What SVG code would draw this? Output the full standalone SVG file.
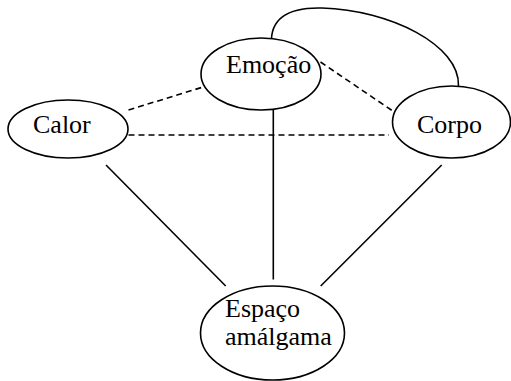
<svg xmlns="http://www.w3.org/2000/svg" width="511" height="381" viewBox="0 0 511 381">
<style>
.n{fill:#fff;stroke:#000;stroke-width:1.6}
.t{font-family:"Liberation Serif","Times New Roman",serif;font-size:26px;fill:#000}
.s{fill:none;stroke:#000;stroke-width:1.6}
.d{fill:none;stroke:#000;stroke-width:1.6;stroke-dasharray:6,4}
</style>
<rect width="511" height="381" fill="#fff"/>
<g id="connectors">
<line class="d" x1="128.5" y1="110" x2="201.5" y2="87.5"/>
<line class="d" x1="320.5" y1="62" x2="393.5" y2="111.5"/>
<line class="d" x1="128.5" y1="135" x2="389" y2="135"/>
<line class="s" x1="273.3" y1="110" x2="273.3" y2="279.5"/>
<line class="s" x1="106" y1="165" x2="225.7" y2="286"/>
<line class="s" x1="441.7" y1="165" x2="320.7" y2="286"/>
<path class="s" d="M271.5,44 C270,20 286,7 322,8 C390,10 460,45 458.5,86"/>
</g>
<g id="emocao">
<ellipse class="n" cx="261" cy="74" rx="60" ry="36"/>
<text class="t" x="226" y="73">Emoção</text>
</g>
<g id="calor">
<ellipse class="n" cx="68" cy="129" rx="60" ry="29"/>
<text class="t" x="33" y="133">Calor</text>
</g>
<g id="corpo">
<ellipse class="n" cx="451.5" cy="122" rx="59" ry="36"/>
<text class="t" x="417" y="133">Corpo</text>
</g>
<g id="espaco">
<ellipse class="n" cx="272.5" cy="333" rx="72" ry="47"/>
<text class="t" x="225" y="317">Espaço</text>
<text class="t" x="225" y="345">amálgama</text>
</g>
</svg>
